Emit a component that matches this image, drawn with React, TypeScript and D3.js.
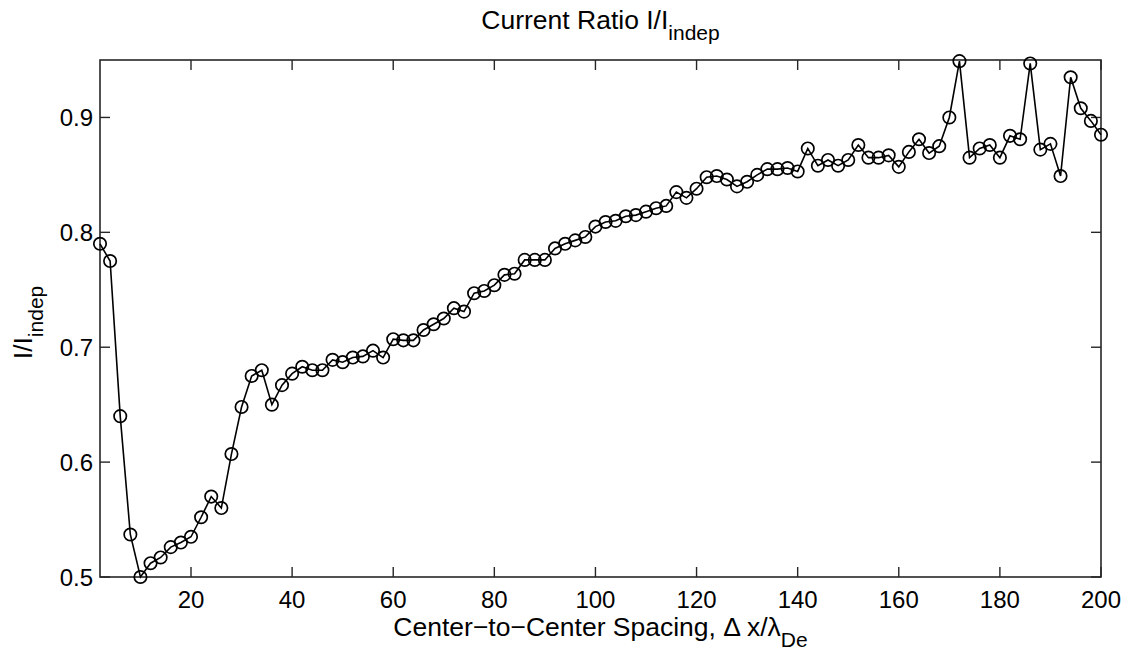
import { useEffect, useRef } from 'react'
import * as d3 from 'd3'

// spacing Δx/λDe (every 2 units) and the measured current ratio
const spacing = d3.range(2, 201, 2)
const ratio = [
  0.790, 0.775, 0.640, 0.537, 0.500, 0.512, 0.517, 0.526, 0.530, 0.535,
  0.552, 0.570, 0.560, 0.607, 0.648, 0.675, 0.680, 0.650, 0.667, 0.677,
  0.683, 0.680, 0.680, 0.689, 0.687, 0.691, 0.692, 0.697, 0.691, 0.707,
  0.706, 0.706, 0.715, 0.720, 0.725, 0.734, 0.731, 0.747, 0.749, 0.754,
  0.763, 0.764, 0.776, 0.776, 0.776, 0.786, 0.790, 0.793, 0.796, 0.805,
  0.809, 0.810, 0.814, 0.815, 0.818, 0.821, 0.823, 0.835, 0.830, 0.838,
  0.848, 0.849, 0.846, 0.840, 0.844, 0.850, 0.855, 0.855, 0.856, 0.853,
  0.873, 0.858, 0.863, 0.858, 0.863, 0.876, 0.865, 0.865, 0.867, 0.857,
  0.870, 0.881, 0.869, 0.875, 0.900, 0.949, 0.865, 0.873, 0.876, 0.865,
  0.884, 0.881, 0.947, 0.872, 0.877, 0.849, 0.935, 0.908, 0.897, 0.885,
]
const xTicks = [20, 40, 60, 80, 100, 120, 140, 160, 180, 200]
const yTicks = [0.5, 0.6, 0.7, 0.8, 0.9]

function App() {
  const ref = useRef<SVGSVGElement>(null)

  useEffect(() => {
    if (!ref.current) return
    const width = 1130, height = 654
    const margin = { top: 60, right: 29, bottom: 77, left: 100 }
    const font = '"Liberation Sans", Arial, Helvetica, sans-serif'
    const axisColor = '#262626'

    const svg = d3.select(ref.current)
    svg.selectAll('*').remove()
    svg.attr('width', width).attr('height', height).style('font-family', font)

    const x = d3.scaleLinear().domain([2, 200]).range([margin.left, width - margin.right])
    const y = d3.scaleLinear().domain([0.5, 0.95]).range([height - margin.bottom, margin.top])
    const [x0, x1] = x.range()
    const [y0, y1] = y.range()

    // box
    svg.append('rect')
      .attr('x', x0).attr('y', y1)
      .attr('width', x1 - x0).attr('height', y0 - y1)
      .attr('fill', 'white').attr('stroke', axisColor).attr('stroke-width', 1.6)

    const tickLen = 10
    const ticks = svg.append('g').attr('stroke', axisColor).attr('stroke-width', 1.4)
    xTicks.forEach(t => {
      ticks.append('line').attr('x1', x(t)).attr('x2', x(t)).attr('y1', y0).attr('y2', y0 - tickLen)
      ticks.append('line').attr('x1', x(t)).attr('x2', x(t)).attr('y1', y1).attr('y2', y1 + tickLen)
    })
    yTicks.forEach(t => {
      ticks.append('line').attr('x1', x0).attr('x2', x0 + tickLen).attr('y1', y(t)).attr('y2', y(t))
      ticks.append('line').attr('x1', x1).attr('x2', x1 - tickLen).attr('y1', y(t)).attr('y2', y(t))
    })

    svg.append('g').selectAll('text').data(xTicks).join('text')
      .attr('x', d => x(d)).attr('y', y0 + 31)
      .attr('text-anchor', 'middle').style('font-size', '24px').attr('fill', '#000')
      .text(d => d)

    svg.append('g').selectAll('text').data(yTicks).join('text')
      .attr('x', x0 - 7).attr('y', d => y(d)).attr('dy', '0.36em')
      .attr('text-anchor', 'end').style('font-size', '24px').attr('fill', '#000')
      .text(d => d3.format('.1f')(d))

    const pts = spacing.map((s, i) => ({ s, v: ratio[i] }))

    svg.append('path')
      .datum(pts)
      .attr('fill', 'none').attr('stroke', '#000').attr('stroke-width', 1.6)
      .attr('d', d3.line<{ s: number, v: number }>().x(d => x(d.s)).y(d => y(d.v)))

    svg.append('g').selectAll('circle').data(pts).join('circle')
      .attr('cx', d => x(d.s)).attr('cy', d => y(d.v)).attr('r', 6.2)
      .attr('fill', 'none').attr('stroke', '#000').attr('stroke-width', 1.7)

    // title
    const title = svg.append('text')
      .attr('x', (x0 + x1) / 2).attr('y', 29)
      .attr('text-anchor', 'middle').style('font-size', '26.5px').attr('fill', '#000')
    title.append('tspan').text('Current Ratio I/I')
    title.append('tspan').attr('dy', 11).style('font-size', '21px').text('indep')

    // x label
    const xl = svg.append('text')
      .attr('x', (x0 + x1) / 2).attr('y', 636)
      .attr('text-anchor', 'middle').style('font-size', '26.5px').attr('fill', '#000')
    xl.append('tspan').text('Center\u2212to\u2212Center Spacing, \u0394 x/\u03bb')
    xl.append('tspan').attr('dy', 11).style('font-size', '21px').text('De')

    // y label
    const yl = svg.append('text')
      .attr('transform', `translate(32,${(y0 + y1) / 2 + 4}) rotate(-90)`)
      .attr('text-anchor', 'middle').style('font-size', '26.5px').attr('fill', '#000')
    yl.append('tspan').text('I/I')
    yl.append('tspan').attr('dy', 11).style('font-size', '21px').text('indep')
  }, [])

  return (
    <div style={{ margin: -8 }}>
      <svg ref={ref}></svg>
    </div>
  )
}

export default App
